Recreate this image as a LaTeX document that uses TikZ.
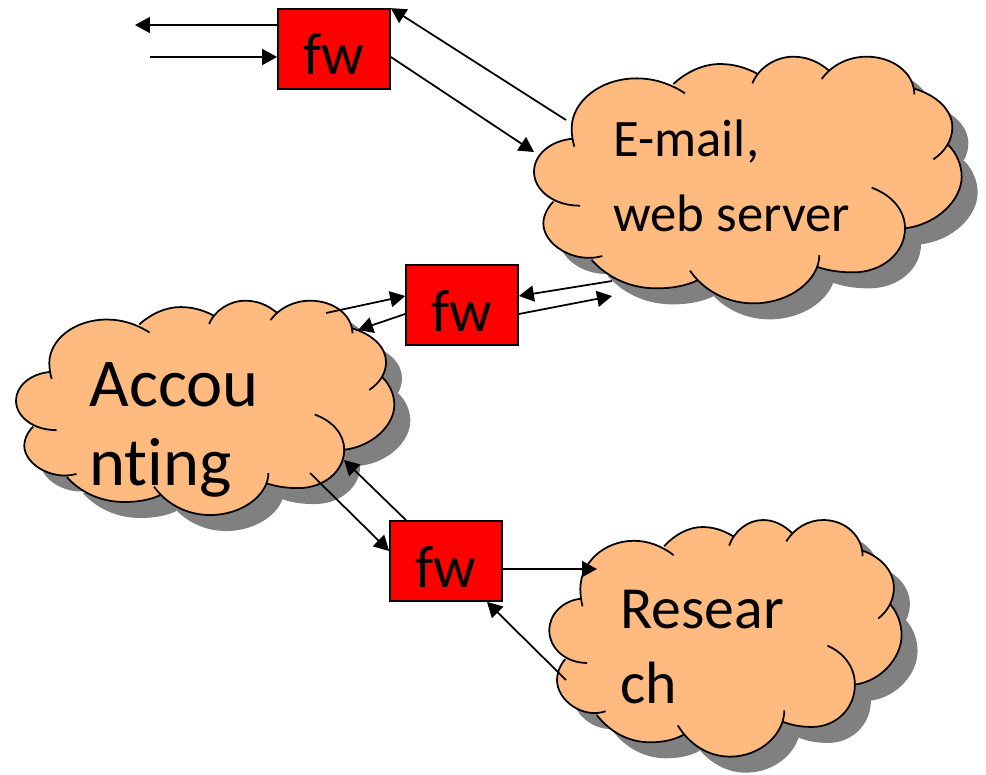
\documentclass[tikz,border=0pt]{standalone}
\usepackage{fontspec}
\setmainfont[Ligatures=NoCommon]{Carlito}
\usetikzlibrary{arrows.meta}
\definecolor{cloudfill}{HTML}{FFBB7F}
\definecolor{cloudshadow}{HTML}{808080}
\tikzset{
  fwbox/.style={draw, line width=1pt, fill=red, minimum width=2.24cm, minimum height=1.6cm, inner sep=0pt, text height=1.04cm, text depth=0pt, font=\fontsize{34}{36}\selectfont},
  link/.style={-{Triangle[length=0.3cm,width=0.32cm]}, line width=1pt},
  cloudtext/.style={anchor=north west, align=left, inner sep=0pt}
}
% lobes of the cloud, #1 goes between two lobes
\newcommand{\cloudlobes}[1]{
  (158,296) .. controls (90,302) and (42,345) .. (42,395) .. controls (42,450) and (100,497) .. (180,497) #1
  (100,485) .. controls (80,505) and (70,530) .. (70,550) .. controls (70,615) and (165,672) .. (247,648) #1
  (215,660) .. controls (270,720) and (340,745) .. (410,745) .. controls (455,745) and (495,738) .. (530,722) #1
  (510,692) .. controls (550,750) and (620,790) .. (700,790) .. controls (810,790) and (898,720) .. (898,645) #1
  (890,680) .. controls (925,692) and (960,697) .. (1000,697) .. controls (1085,697) and (1155,640) .. (1155,565) .. controls (1155,510) and (1115,465) .. (1055,443) #1
  (1152,565) .. controls (1250,555) and (1325,480) .. (1325,410) .. controls (1325,375) and (1310,340) .. (1285,315) #1
  (1240,358) .. controls (1275,335) and (1297,300) .. (1297,262) .. controls (1297,210) and (1250,165) .. (1180,145) #1
  (1183,163) .. controls (1183,100) and (1120,50) .. (1040,50) .. controls (985,50) and (935,75) .. (905,117) #1
  (925,90) .. controls (895,65) and (860,50) .. (820,50) .. controls (765,50) and (715,85) .. (697,130) #1
  (710,100) .. controls (675,82) and (640,72) .. (600,72) .. controls (550,72) and (500,95) .. (460,132) #1
  (495,160) .. controls (450,130) and (400,115) .. (350,115) .. controls (240,115) and (155,185) .. (155,265) .. controls (155,285) and (158,302) .. (163,320)
}
% left, top, xscale, yscale
\newcommand{\cloud}[4]{
  \begin{scope}[shift={(#1+16,#2+16)}, xscale=#3/3, yscale=#4/3, shift={(-42,-50)}]
    \fill[cloudshadow] \cloudlobes{-- (680,420) --};
  \end{scope}
  \begin{scope}[shift={(#1,#2)}, xscale=#3/3, yscale=#4/3, shift={(-42,-50)}]
    \fill[cloudfill] \cloudlobes{-- (680,420) --};
    \draw[line width=1pt] \cloudlobes{};
  \end{scope}
}

\begin{document}
\begin{tikzpicture}[x=0.02cm, y=-0.02cm]
  \useasboundingbox (0,0) rectangle (986,774);

  % clouds
  \cloud{534}{56.7}{1}{1}
  \cloud{16}{300.7}{0.8846}{0.8689}
  \cloud{549.3}{520}{0.8237}{0.9595}

  % cloud labels
  \node[cloudtext, font=\fontsize{30}{42.7}\selectfont] (email) at (613,120) {E-mail,\\web server};
  \node[cloudtext, font=\fontsize{39}{45}\selectfont] (accounting) at (89,362) {Accou\\nting};
  \node[cloudtext, font=\fontsize{34}{42.7}\selectfont] (research) at (620,590) {Resear\\ch};

  % firewalls
  \node[fwbox] (fwtop) at (334,49) {fw};
  \node[fwbox] (fwmid) at (462,305) {fw};
  \node[fwbox] (fwlow) at (446,561) {fw};

  % free ends of the connectors
  \coordinate (outside) at (135,25);
  \coordinate (inside) at (150,57);
  \coordinate (mailfrom) at (566,120);
  \coordinate (mailto) at (534,152);
  \coordinate (mailmidfrom) at (612,281);
  \coordinate (mailmidto) at (612,296);
  \coordinate (accfrom) at (326,313);
  \coordinate (accto) at (358,330);
  \coordinate (acclowto) at (344,460);
  \coordinate (acclowfrom) at (310,473);
  \coordinate (resto) at (597,569);
  \coordinate (resfrom) at (566,680);

  % top firewall
  \draw[link] (fwtop.west |- outside) -- (outside);
  \draw[link] (inside) -- (fwtop.west |- inside);
  \draw[link] (mailfrom) -- (fwtop.north east);
  \draw[link] (fwtop.east |- inside) -- (mailto);

  % middle firewall
  \draw[link] (mailmidfrom) -- ([yshift=0.18cm]fwmid.east);
  \draw[link] ([yshift=-0.18cm]fwmid.east) -- (mailmidto);
  \draw[link] (accfrom) -- ([yshift=0.18cm]fwmid.west);
  \draw[link] ([yshift=-0.18cm]fwmid.west) -- (accto);

  % lower firewall
  \draw[link] ([xshift=-0.8cm]fwlow.north) -- (acclowto);
  \draw[link] (acclowfrom) -- ([yshift=0.2cm]fwlow.west);
  \draw[link] (fwlow.east |- resto) -- (resto);
  \draw[link] (resfrom) -- ([xshift=0.82cm]fwlow.south);
\end{tikzpicture}
\end{document}
